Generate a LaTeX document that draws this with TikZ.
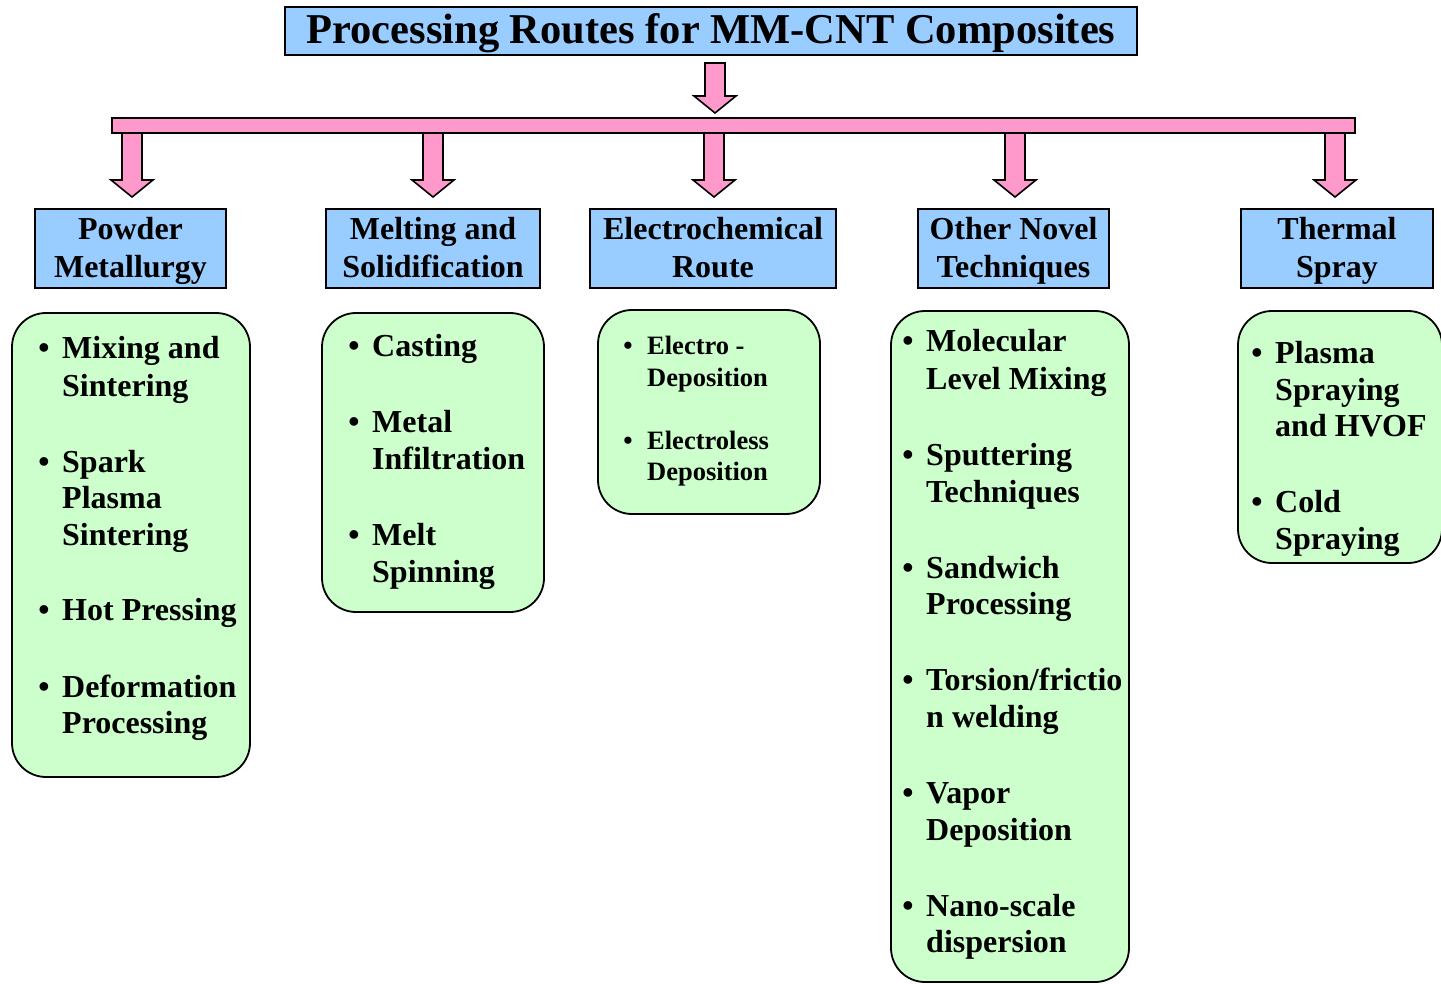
\documentclass[tikz,border=0pt]{standalone}
\usepackage{fontspec}
\setmainfont{Liberation Serif}
\definecolor{hblue}{HTML}{99CCFF}
\definecolor{hpink}{HTML}{FF99CC}
\definecolor{hgreen}{HTML}{CCFFCC}
\newcommand\hfirst{\rule{0pt}{26.6pt}}
\newcommand\hlast{\rule[-5.6pt]{0pt}{20pt}}
\tikzset{
  hdr/.style={draw=black, line width=1.6pt, fill=hblue, inner sep=0pt, align=center,
    font=\fontsize{32}{38}\selectfont\bfseries},
  gbox/.style={draw=black, line width=1.8pt, fill=hgreen, rounded corners=34pt},
  itm/.style={inner sep=0pt, anchor=base west, font=\fontsize{32}{37}\selectfont\bfseries},
  itms/.style={inner sep=0pt, anchor=base west, font=\fontsize{26.5}{31}\selectfont\bfseries},
  bul/.style={inner sep=0pt, anchor=base, font=\fontsize{32}{37}\selectfont\bfseries},
  buls/.style={inner sep=0pt, anchor=base, font=\fontsize{26.5}{31}\selectfont\bfseries},
  parrow/.style={draw=black, line width=1.6pt, fill=hpink, line join=miter},
}
\newcommand\blockdown[4]{% name, x, ytop, ytip
  \draw[parrow] ({#2-10},{#3}) -- ({#2+10},{#3}) -- ({#2+10},{#4-17}) -- ({#2+21},{#4-17})
    -- ({#2},{#4}) -- ({#2-21},{#4-17}) -- ({#2-10},{#4-17}) -- cycle;
  \coordinate (#1) at ({#2},{#4});}
\begin{document}
\begin{tikzpicture}[x=1pt,y=-1pt]
\useasboundingbox (0,0) rectangle (1441,984);
% title
\node[hdr, minimum width=852pt, minimum height=48pt, text height=29pt, text depth=3pt,
  font=\fontsize{42.5}{48}\selectfont\bfseries]
  (title) at (711,31) {Processing Routes for MM-CNT Composites};
% top arrow and bar
\blockdown{tarrow}{715}{63}{113}
\node[draw=black, line width=1.6pt, fill=hpink, inner sep=0pt, minimum width=1243pt, minimum height=15pt]
  (bar) at (733.5,125.5) {};
% down arrows
\blockdown{a1}{132}{133}{197}
\blockdown{a2}{433}{133}{197}
\blockdown{a3}{714}{133}{197}
\blockdown{a4}{1015}{133}{197}
\blockdown{a5}{1335}{133}{197}
% headers
\node[hdr, minimum width=191pt, minimum height=79pt] (h1) at (130.5,248.5) {\hfirst Powder\\Metallurgy\hlast};
\node[hdr, minimum width=214pt, minimum height=79pt] (h2) at (433,248.5) {\hfirst Melting and\\Solidification\hlast};
\node[hdr, minimum width=246pt, minimum height=79pt] (h3) at (713,248.5) {\hfirst Electrochemical\\Route\hlast};
\node[hdr, minimum width=191pt, minimum height=79pt] (h4) at (1013.5,248.5) {\hfirst Other Novel\\Techniques\hlast};
\node[hdr, minimum width=192pt, minimum height=79pt] (h5) at (1337,248.5) {\hfirst Thermal\\Spray\hlast};
% green boxes
\node[gbox, minimum width=238pt, minimum height=464pt] (g1) at (131,545) {};
\node[gbox, minimum width=222pt, minimum height=299pt] (g2) at (433,462.5) {};
\node[gbox, minimum width=222pt, minimum height=204pt] (g3) at (709,412) {};
\node[gbox, minimum width=238pt, minimum height=671pt] (g4) at (1010,646.5) {};
\node[gbox, minimum width=204pt, minimum height=252pt] (g5) at (1340,437) {};
% box 1
\node[bul] (b11) at (44,359) {\textbullet};
\node[itm] (t11a) at (62,359) {Mixing and};
\node[itm] (t11b) at (62,396) {Sintering};
\node[bul] (b12) at (44,472) {\textbullet};
\node[itm] (t12a) at (62,472) {Spark};
\node[itm] (t12b) at (62,508) {Plasma};
\node[itm] (t12c) at (62,545) {Sintering};
\node[bul] (b13) at (44,620) {\textbullet};
\node[itm] (t13a) at (62,620) {Hot Pressing};
\node[bul] (b14) at (44,697) {\textbullet};
\node[itm] (t14a) at (62,697) {Deformation};
\node[itm] (t14b) at (62,733) {Processing};
% box 2
\node[bul] (b21) at (354,356) {\textbullet};
\node[itm] (t21a) at (372,356) {Casting};
\node[bul] (b22) at (354,432) {\textbullet};
\node[itm] (t22a) at (372,432) {Metal};
\node[itm] (t22b) at (372,469) {Infiltration};
\node[bul] (b23) at (354,545) {\textbullet};
\node[itm] (t23a) at (372,545) {Melt};
\node[itm] (t23b) at (372,582) {Spinning};
% box 3
\node[buls] (b31) at (628,355) {\textbullet};
\node[itms] (t31a) at (647,355) {Electro -};
\node[itms] (t31b) at (647,386) {Deposition};
\node[buls] (b32) at (628,449) {\textbullet};
\node[itms] (t32a) at (647,449) {Electroless};
\node[itms] (t32b) at (647,480) {Deposition};
% box 4
\node[bul] (b41) at (908,352) {\textbullet};
\node[itm] (t41a) at (926,352) {Molecular};
\node[itm] (t41b) at (926,389) {Level Mixing};
\node[bul] (b42) at (908,465) {\textbullet};
\node[itm] (t42a) at (926,465) {Sputtering};
\node[itm] (t42b) at (926,502) {Techniques};
\node[bul] (b43) at (908,578) {\textbullet};
\node[itm] (t43a) at (926,578) {Sandwich};
\node[itm] (t43b) at (926,614) {Processing};
\node[bul] (b44) at (908,690) {\textbullet};
\node[itm] (t44a) at (926,690) {Torsion/frictio};
\node[itm] (t44b) at (926,727) {n welding};
\node[bul] (b45) at (908,803) {\textbullet};
\node[itm] (t45a) at (926,803) {Vapor};
\node[itm] (t45b) at (926,840) {Deposition};
\node[bul] (b46) at (908,916) {\textbullet};
\node[itm] (t46a) at (926,916) {Nano-scale};
\node[itm] (t46b) at (926,952) {dispersion};
% box 5
\node[bul] (b51) at (1257,363) {\textbullet};
\node[itm] (t51a) at (1275,363) {Plasma};
\node[itm] (t51b) at (1275,400) {Spraying};
\node[itm] (t51c) at (1275,436) {and HVOF};
\node[bul] (b52) at (1257,512) {\textbullet};
\node[itm] (t52a) at (1275,512) {Cold};
\node[itm] (t52b) at (1275,549) {Spraying};
\end{tikzpicture}
\end{document}
